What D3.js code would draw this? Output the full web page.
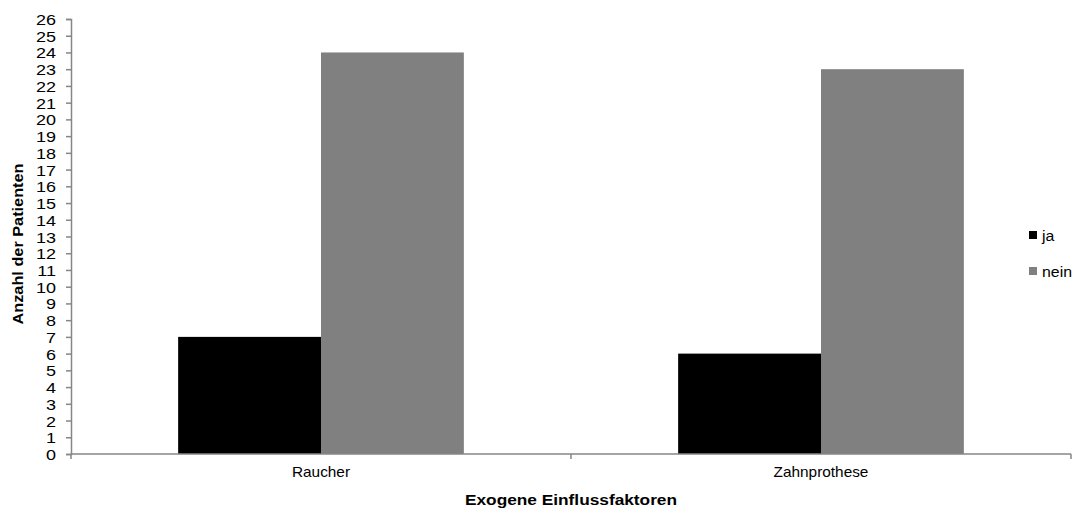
<!DOCTYPE html>
<html><head><meta charset="utf-8">
<script src="https://cdn.jsdelivr.net/npm/d3@7/dist/d3.min.js"></script>
<style>body{margin:0;background:#fff}svg{display:block;font-family:"Liberation Sans",Arial,sans-serif}</style>
</head><body><svg id="c" width="1082" height="508"></svg>
<script>
const categories = ["Raucher", "Zahnprothese"];
const seriesNames = ["ja", "nein"];
const jaValues = [7, 6];
const neinValues = [24, 23];
const yTicks = d3.range(0, 27);
const colors = ["#000000", "#808080"];

const svg = d3.select("#c");
const m = {left: 71, right: 1071, top: 19, bottom: 454};
const axisColor = "#868686";
const font = "Liberation Sans, Arial, sans-serif";

const x = d3.scaleBand().domain(categories).range([m.left, m.right]);
const x1 = d3.scaleBand().domain(seriesNames).range([0, x.bandwidth()]).paddingOuter(0.75).paddingInner(0);
const y = d3.scaleLinear().domain([0, 26]).range([m.bottom, m.top]);

const data = categories.map((c, i) => ({cat: c, vals: [jaValues[i], neinValues[i]]}));

// grouped bars
svg.append("g").selectAll("g.cat").data(data).join("g").attr("class", "cat")
  .attr("transform", d => `translate(${x(d.cat)},0)`)
  .selectAll("rect").data(d => d.vals.map((v, k) => ({k, v}))).join("rect")
  .attr("x", d => x1(seriesNames[d.k]))
  .attr("width", x1.bandwidth())
  .attr("y", d => y(d.v))
  .attr("height", d => y(0) - y(d.v))
  .attr("fill", d => colors[d.k]);

// y axis
const ya = svg.append("g").attr("transform", `translate(${m.left},0)`)
  .call(d3.axisLeft(y).tickValues(yTicks).tickSize(5).tickFormat(d3.format("d")));
ya.select(".domain").attr("stroke", axisColor).attr("stroke-width", 1.5);
ya.selectAll(".tick line").attr("stroke", axisColor).attr("stroke-width", 1.5);
ya.selectAll(".tick text")
  .attr("x", null).attr("dy", null)
  .attr("transform", "translate(-15,5.5) scale(1.2,1)")
  .attr("font-size", 15).attr("fill", "#000").attr("font-family", font);

// x axis with boundary ticks between categories
const xa = svg.append("g").attr("transform", `translate(0,${m.bottom})`);
xa.append("line").attr("x1", m.left).attr("x2", m.right).attr("stroke", axisColor).attr("stroke-width", 1.5);
const bounds = [m.left, ...categories.map(c => x(c) + x.bandwidth())];
xa.selectAll("line.tk").data(bounds).join("line").attr("class", "tk")
  .attr("x1", d => d).attr("x2", d => d).attr("y1", 0).attr("y2", 5)
  .attr("stroke", axisColor).attr("stroke-width", 1.5);
xa.selectAll("text").data(categories).join("text")
  .attr("transform", d => `translate(${x(d) + x.bandwidth() / 2},23) scale(1.06,1)`)
  .attr("text-anchor", "middle").attr("font-size", 14.5).text(d => d);

// axis titles
svg.append("text").attr("x", (m.left + m.right) / 2).attr("y", 505)
  .attr("text-anchor", "middle").attr("font-size", 14).attr("font-weight", "bold")
  .attr("textLength", 212).attr("lengthAdjust", "spacingAndGlyphs")
  .text("Exogene Einflussfaktoren");
svg.append("text").attr("transform", `translate(22.5,244) rotate(-90)`)
  .attr("text-anchor", "middle").attr("font-size", 15).attr("font-weight", "bold")
  .attr("textLength", 161).attr("lengthAdjust", "spacingAndGlyphs")
  .text("Anzahl der Patienten");

// legend
const lg = svg.append("g").selectAll("g").data(seriesNames).join("g")
  .attr("transform", (d, i) => `translate(1029,${231 + i * 36})`);
lg.append("rect").attr("width", 8).attr("height", 8).attr("fill", (d, i) => colors[i]);
lg.append("text").attr("transform", "translate(13,9.5) scale(1.06,1)").attr("font-size", 15).text(d => d);
</script></body></html>
